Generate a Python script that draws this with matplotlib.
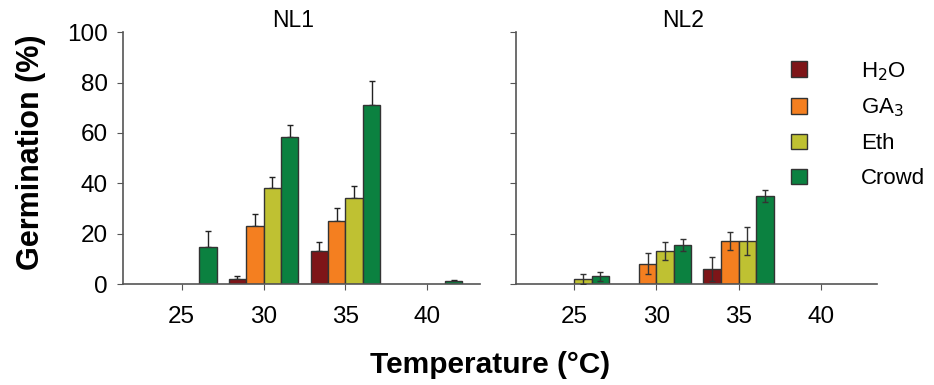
import numpy as np
import matplotlib
matplotlib.use('Agg')
from matplotlib import pyplot as plt

plt.rcParams['font.family'] = ['Liberation Sans', 'DejaVu Sans']

# data
temps = ['25', '30', '35', '40']
treatments = ['H$_2$O', 'GA$_3$', 'Eth', 'Crowd']
colors = ['#7e1518', '#f47f20', '#bfc132', '#0b8140']

nl1_h2o = [0, 2.1, 13.1, 0]
nl1_ga3 = [0, 23.0, 25.0, 0]
nl1_eth = [0, 38.0, 34.0, 0]
nl1_crowd = [14.6, 58.5, 71.0, 1.0]
nl1_h2o_err = [0, 1.2, 3.5, 0]
nl1_ga3_err = [0, 4.7, 5.3, 0]
nl1_eth_err = [0, 4.4, 4.9, 0]
nl1_crowd_err = [6.6, 4.7, 9.5, 0.6]

nl2_h2o = [0, 0, 6.1, 0]
nl2_ga3 = [0, 8.1, 17.1, 0]
nl2_eth = [2.1, 13.1, 17.1, 0]
nl2_crowd = [3.0, 15.5, 35.1, 0]
nl2_h2o_err = [0, 0, 4.8, 0]
nl2_ga3_err = [0, 4.1, 3.6, 0]
nl2_eth_err = [2.0, 3.5, 5.5, 0]
nl2_crowd_err = [1.9, 2.3, 2.4, 0]

nl1 = [nl1_h2o, nl1_ga3, nl1_eth, nl1_crowd]
nl1_err = [nl1_h2o_err, nl1_ga3_err, nl1_eth_err, nl1_crowd_err]
nl2 = [nl2_h2o, nl2_ga3, nl2_eth, nl2_crowd]
nl2_err = [nl2_h2o_err, nl2_ga3_err, nl2_eth_err, nl2_crowd_err]

fig = plt.figure(figsize=(9.34, 3.85), dpi=100)
ax1 = fig.add_axes([0.1317, 0.2623, 0.382, 0.6538])
ax2 = fig.add_axes([0.5525, 0.2623, 0.387, 0.6538])

x = np.arange(len(temps))
w = 0.213
spine_col = '#555555'

def draw(ax, vals, errs, title, tx, both_sides, xlim):
    for i in range(4):
        pos = x + (i - 1.5) * w
        v = np.array(vals[i])
        e = np.array(errs[i])
        keep = v > 0
        ax.bar(pos[keep], v[keep], w, color=colors[i], edgecolor='#333333',
               linewidth=1.0, zorder=2, label=treatments[i])
        if both_sides:
            ax.errorbar(pos[keep], v[keep], yerr=e[keep], fmt='none',
                        ecolor='#333333', elinewidth=1, capsize=2.5,
                        capthick=1, zorder=3)
        else:
            ax.errorbar(pos[keep], v[keep], yerr=[np.zeros(keep.sum()), e[keep]],
                        fmt='none', ecolor='#222222', elinewidth=1, capsize=2.5,
                        capthick=1, zorder=1)
    ax.set_xlim(*xlim)
    ax.set_ylim(0, 100)
    ax.set_xticks(x)
    ax.set_xticklabels(temps, fontsize=17.5)
    ax.set_yticks(np.arange(0, 101, 20))
    ax.set_title(title, fontsize=16.5, pad=3, x=tx)
    for s in ['top', 'right']:
        ax.spines[s].set_visible(False)
    for s in ['left', 'bottom']:
        ax.spines[s].set_color(spine_col)
        ax.spines[s].set_linewidth(1.2)
    ax.tick_params(axis='x', direction='out', length=4, pad=11.5, color=spine_col)
    ax.tick_params(axis='y', direction='out', length=4, pad=7, color=spine_col,
                   labelsize=17.5)

draw(ax1, nl1, nl1_err, 'NL1', 0.476, False, (-0.716, 3.64))
draw(ax2, nl2, nl2_err, 'NL2', 0.462, True, (-0.705, 3.69))
ax2.set_yticklabels([])

ax2.legend(loc='upper left', bbox_to_anchor=(0.761, 0.89), frameon=False,
           fontsize=16, handlelength=0.7, handleheight=0.7,
           handletextpad=2.45, labelspacing=0.63, borderaxespad=0, borderpad=0)

fig.text(0.033, 0.605, 'Germination (%)', rotation=90, ha='center', va='center',
         fontsize=22, fontweight='bold')
fig.text(0.525, 0.052, 'Temperature (°C)', ha='center', va='center',
         fontsize=21.5, fontweight='bold')

fig.savefig('out.png', dpi=100)
